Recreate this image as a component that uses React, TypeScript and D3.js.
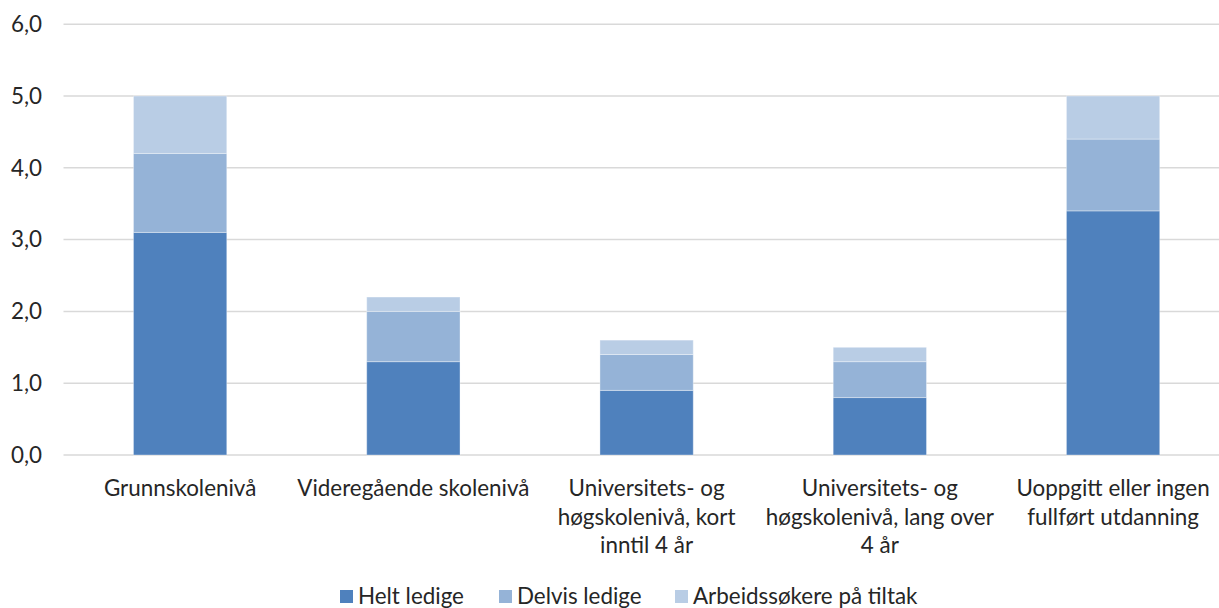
import React from "react";
import * as d3 from "d3";

const categories = [
  "Grunnskolenivå",
  "Videregående skolenivå",
  "Universitets- og\nhøgskolenivå, kort\ninntil 4 år",
  "Universitets- og\nhøgskolenivå, lang over\n4 år",
  "Uoppgitt eller ingen\nfullført utdanning",
];
const seriesNames = ["Helt ledige", "Delvis ledige", "Arbeidssøkere på tiltak"];
const heltLedige = [3.1, 1.3, 0.9, 0.8, 3.4];
const delvisLedige = [1.1, 0.7, 0.5, 0.5, 1.0];
const tiltak = [0.8, 0.2, 0.2, 0.2, 0.6];
const yTicks = [0, 1, 2, 3, 4, 5, 6];
const colors = ["#4f81bd", "#95b3d7", "#b9cde5"];

const W = 1219;
const H = 608;
const FONT = "Lato, 'Open Sans', sans-serif";
const FS = 22.4;

export default function App() {
  const x = d3
    .scaleBand<string>()
    .domain(categories)
    .range([63.5, 1229.7])
    .paddingInner(0.6)
    .paddingOuter(0.3);
  const y = d3.scaleLinear().domain([0, 6]).range([455, 24.2]);

  const rows = categories.map((c, i) => ({
    cat: c,
    h: heltLedige[i],
    d: delvisLedige[i],
    t: tiltak[i],
  }));
  const stack = d3.stack<any>().keys(["h", "d", "t"])(rows);

  return (
    <svg width={W} height={H} style={{ display: "block", position: "absolute", left: 0, top: 0 }} fontFamily={FONT}>
      <rect width={W} height={H} fill="#fff" />
      {yTicks.map((t) => (
        <g key={t}>
          <line x1={63.5} x2={W} y1={y(t)} y2={y(t)} stroke="#d9d9d9" strokeWidth={1.5} />
          <text x={42} y={y(t)} dy="0.35em" textAnchor="end" fontSize={FS} fill="#262626">
            {d3.format(".1f")(t).replace(".", ",")}
          </text>
        </g>
      ))}
      {stack.map((s, si) => (
        <g key={si} fill={colors[si]}>
          {s.map((p, i) => (
            <rect
              key={i}
              x={x(categories[i])}
              width={x.bandwidth()}
              y={y(p[1])}
              height={y(p[0]) - y(p[1])}
              stroke="#ffffff"
              strokeOpacity={0.35}
              strokeWidth={1}
            />
          ))}
        </g>
      ))}
      {categories.map((c) => {
        const cx = (x(c) as number) + x.bandwidth() / 2;
        return (
          <text key={c} textAnchor="middle" fontSize={FS} fill="#262626">
            {c.split("\n").map((line, li) => (
              <tspan key={li} x={cx} y={496 + li * 28.5}>
                {line}
              </tspan>
            ))}
          </text>
        );
      })}
      {seriesNames.map((n, i) => {
        const lx = [340, 499, 675][i];
        return (
          <g key={n}>
            <rect x={lx} y={590} width={13} height={13} fill={colors[i]} />
            <text x={lx + 18} y={604} fontSize={FS} fill="#262626">
              {n}
            </text>
          </g>
        );
      })}
    </svg>
  );
}
